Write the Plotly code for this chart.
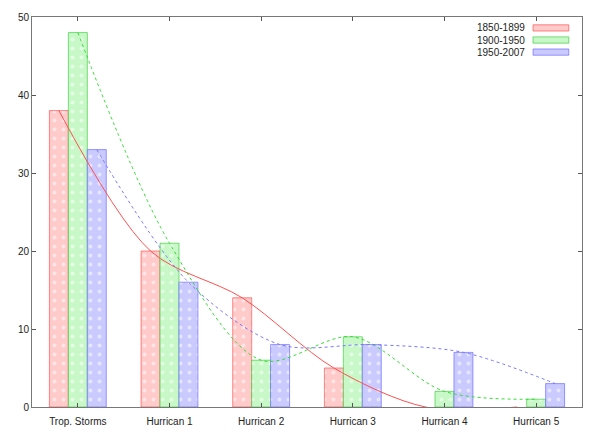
import plotly.graph_objects as go

categories = ["Trop. Storms", "Hurrican 1", "Hurrican 2", "Hurrican 3", "Hurrican 4", "Hurrican 5"]
series_names = ["1850-1899", "1900-1950", "1950-2007"]
v1850 = [38, 20, 14, 5, 0, 0]
v1900 = [48, 21, 6, 9, 2, 1]
v1950 = [33, 16, 8, 8, 7, 3]
y_ticks = [0, 10, 20, 30, 40, 50]

values = [v1850, v1900, v1950]
fills = ["#ffcaca", "#c8f8c8", "#cacaff"]
edges = ["rgba(255,60,60,0.6)", "rgba(40,200,40,0.6)", "rgba(90,90,255,0.6)"]
lines = ["#ff5050", "#33dd33", "#7777ff"]
dashes = ["solid", "dot", "dot"]

idx = list(range(len(categories)))
bw = 0.207
offsets = [-bw, 0, bw]

fig = go.Figure()
for name, vals, fc, ec in zip(series_names, values, fills, edges):
    fig.add_trace(go.Bar(
        x=idx, y=vals, name=name, width=bw,
        marker=dict(color=fc, line=dict(color=ec, width=[1 if v > 0 else 0 for v in vals]),
                    pattern=dict(shape=".", fgcolor="white", bgcolor=fc, size=9, solidity=0.15)),
        showlegend=False,
    ))
for name, vals, lc, ds, off in zip(series_names, values, lines, dashes, offsets):
    fig.add_trace(go.Scatter(
        x=[i + off for i in idx], y=vals, mode="lines",
        line=dict(color=lc, width=1, dash=ds, shape="spline", smoothing=0.9),
        showlegend=False, hoverinfo="skip",
    ))

shapes = []
annotations = []
rows_y = [0.972, 0.941, 0.910]
for name, fc, ec, yy in zip(series_names, fills, edges, rows_y):
    shapes.append(dict(type="rect", xref="paper", yref="paper", x0=0.911, x1=0.976,
                       y0=yy - 0.008, y1=yy + 0.008, fillcolor=fc, line=dict(color=ec, width=1)))
    annotations.append(dict(text=name, xref="paper", yref="paper", x=0.9, y=yy,
                            xanchor="right", yanchor="middle", showarrow=False,
                            font=dict(size=10, color="#222")))

fig.update_layout(
    width=598, height=432,
    margin=dict(l=24, r=24, t=9, b=33, autoexpand=False),
    paper_bgcolor="white", plot_bgcolor="white",
    barmode="group", bargap=0.38,
    font=dict(family="Liberation Sans, Arial, sans-serif", size=10, color="#222"),
    shapes=shapes, annotations=annotations,
    xaxis=dict(range=[-0.5, 5.5], tickvals=idx, ticktext=categories, showgrid=False,
               zeroline=False, showline=True, linecolor="#777", linewidth=1, mirror="ticks",
               ticks="inside", ticklen=4, tickcolor="#555", automargin=False,
               ticklabelstandoff=5),
    yaxis=dict(range=[0, 50], tickvals=y_ticks, showgrid=False, zeroline=False,
               showline=True, linecolor="#777", linewidth=1, mirror="ticks",
               ticks="inside", ticklen=4, tickcolor="#555", automargin=False),
)

fig.write_html("out.html")
